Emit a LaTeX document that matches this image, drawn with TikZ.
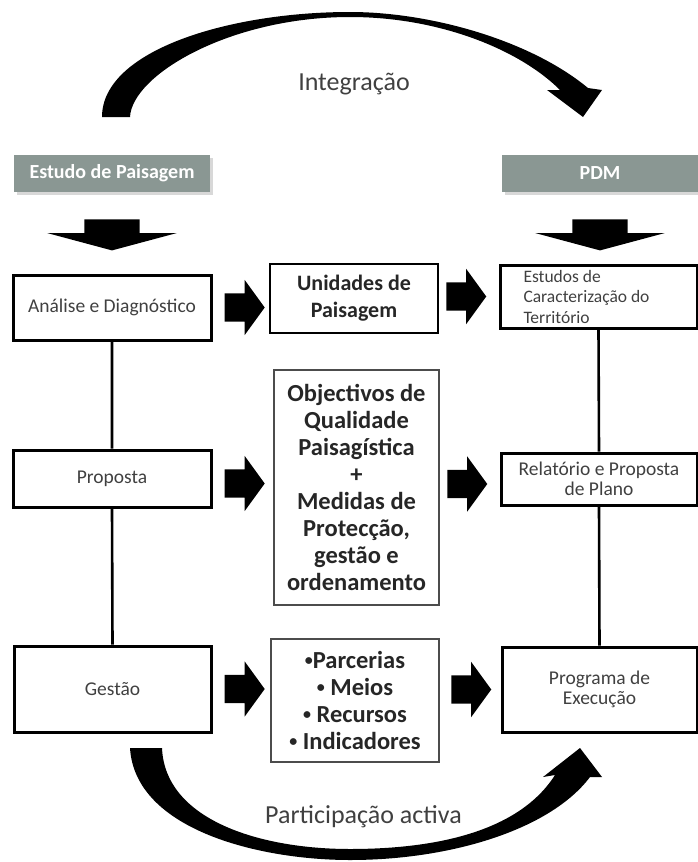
\documentclass[tikz,border=0pt]{standalone}
\usepackage{fontspec}
\setmainfont{Carlito}
\usepackage{tikz}
\usetikzlibrary{positioning}
\usetikzlibrary{shapes.arrows,shadows}
\definecolor{headgray}{HTML}{8A9793}
\definecolor{txtgray}{HTML}{404040}
\newcommand{\smallbul}{\raisebox{.12em}{\fontsize{16}{16}\selectfont•}}
\tikzset{
    every picture/.style={>=stealth,auto},
}
\begin{document}
\begin{tikzpicture}[x=1pt,y=-1pt,
    head/.style={fill=headgray,text=white,minimum width=196pt,minimum height=37pt,
      font=\fontsize{20}{22}\selectfont\bfseries,
      drop shadow={shadow xshift=3pt,shadow yshift=-3pt,fill=black!30,opacity=.5}},
    thickbox/.style={draw=black,line width=3pt,align=center,text=txtgray,
      font=\fontsize{19.5}{20}\selectfont},
    midbox/.style={draw=black!70,line width=1.2pt,align=center,text=black!85,
      font=\fontsize{24.5}{27}\selectfont\bfseries},
    rarr/.style={single arrow,fill=black,draw=none,inner xsep=0pt,inner ysep=14pt,
      single arrow head extend=13.5pt,single arrow tip angle=108,minimum height=40pt},
    darr/.style={single arrow,fill=black,draw=none,inner xsep=0pt,inner ysep=27.5pt,
      single arrow head extend=37pt,single arrow tip angle=150,minimum height=31pt,rotate=-90},
    link/.style={line width=2.6pt}]
\useasboundingbox (0,0) rectangle (698,862);

% headers
\node[head] (ep) at (112,173.5) {Estudo de Paisagem};
\node[head] (pdm) at (600,173.5) {PDM};

% left column
\node[thickbox,minimum width=198pt,minimum height=65pt] (ad) at (112,307.5) {Análise e Diagnóstico};
\node[thickbox,minimum width=198pt,minimum height=57pt] (pr) at (112,478.5) {Proposta};
\node[thickbox,minimum width=197pt,minimum height=86pt] (ge) at (112.5,689) {Gestão};

% middle column
\node[midbox,line width=2.2pt,draw=black,minimum width=168pt,minimum height=69pt,
  font=\fontsize{22}{27}\selectfont\bfseries] (up) at (354,298.5) {Unidades de\\Paisagem};
\node[midbox,minimum width=165pt,minimum height=235pt] (oq) at (356.5,487.5)
  {Objectivos de\\Qualidade\\Paisagística\\+\\Medidas de\\Protecção,\\gestão e\\ordenamento};
\node[midbox,minimum width=168pt,minimum height=123pt] (pm) at (355,700.5)
  {\smallbul Parcerias\\\smallbul\ Meios\\\smallbul\ Recursos\\\smallbul\ Indicadores};

% right column
\node[thickbox,align=flush left,text width=150pt,minimum width=197pt,minimum height=63pt,
  font=\fontsize{17.5}{20.5}\selectfont] (ect) at (598.5,296.5) {Estudos de\\Caracterização do\\Território};
\node[thickbox,minimum width=196pt,minimum height=52pt] (rp) at (599,479) {Relatório e Proposta\\de Plano};
\node[thickbox,minimum width=195pt,minimum height=85pt] (pe) at (599.5,689.5) {Programa de\\Execução};

% block arrows
\node[darr,anchor=tail] (d1) at ([yshift=-27pt]ep.south) {};
\node[darr,anchor=tail] (d2) at ([yshift=-27pt]pdm.south) {};
\node[rarr,anchor=tail] (a1) at ([xshift=12pt]ad.east) {};
\node[rarr,anchor=tip] (a2) at ([xshift=-12pt]ect.west) {};
\node[rarr,anchor=tail] (a3) at ([xshift=12pt,yshift=-5pt]pr.east) {};
\node[rarr,anchor=tip] (a4) at ([xshift=-12pt,yshift=-5pt]rp.west) {};
\node[rarr,anchor=tail] (a5) at ([xshift=12pt]ge.east) {};
\node[rarr,anchor=tip] (a6) at ([xshift=-9pt]pe.west) {};

% links
\draw[link] (ad.south) -- (pr.north) (pr.south) -- (ge.north);
\draw[link] (ect.south) -- (rp.north) (rp.south) -- (pe.north);

% curved arrows
\fill (102,117) .. controls (102,50) and (230,12) .. (350,12)
  .. controls (430,12) and (530,40) .. (588,88) -- (602,90) -- (583,117) -- (547,90) -- (560,90)
  .. controls (520,50) and (440,17) .. (350,17)
  .. controls (230,17) and (132,75) .. (130,117) -- cycle;
\fill (130,748) .. controls (135,830) and (260,860) .. (350,860)
  .. controls (450,860) and (550,830) .. (590,777) -- (602,777) -- (580,748) -- (543,777) -- (555,775)
  .. controls (520,830) and (440,849) .. (350,849)
  .. controls (260,849) and (165,820) .. (162,748) -- cycle;
\node[text=txtgray,font=\fontsize{26}{30}\selectfont,anchor=base] (int) at (354,90) {Integração};
\node[text=txtgray,font=\fontsize{26}{30}\selectfont,anchor=base] (pa) at (363.5,823) {Participação activa};
\end{tikzpicture}
\end{document}
